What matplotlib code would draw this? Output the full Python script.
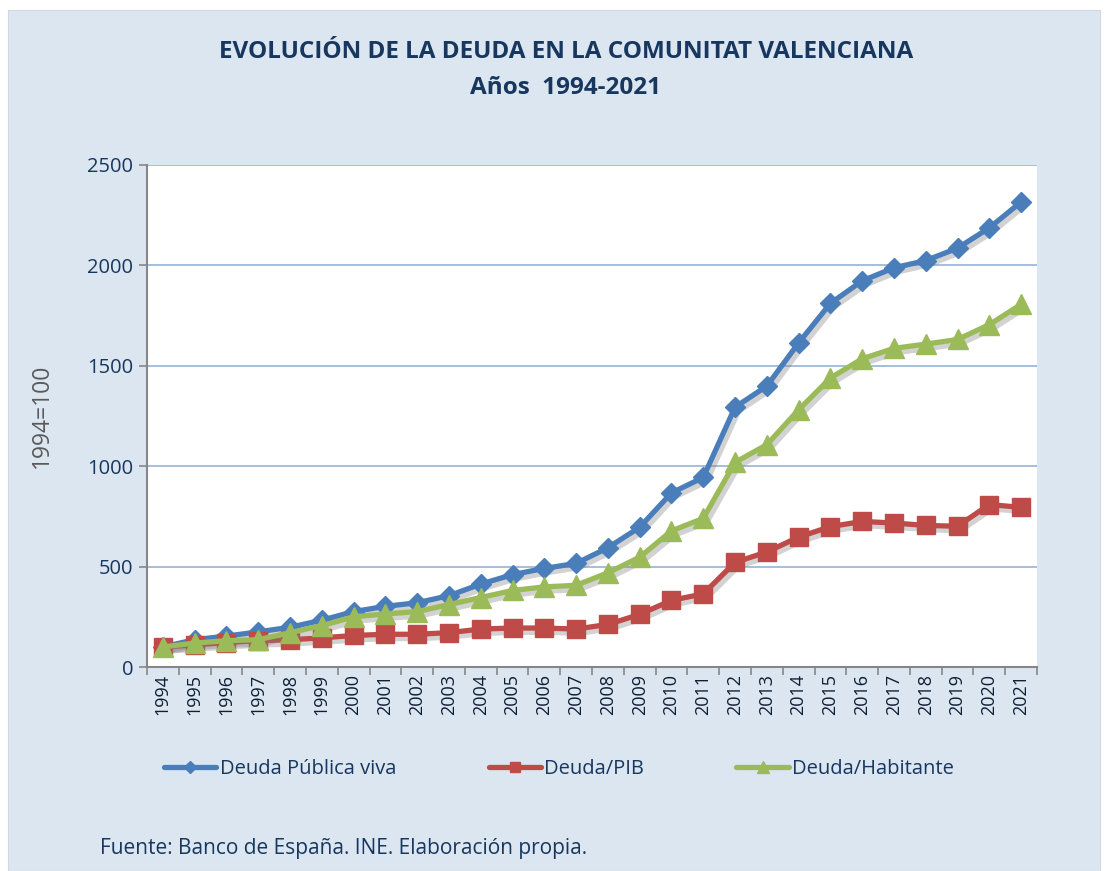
import numpy as np
import matplotlib
matplotlib.use("Agg")
import matplotlib.pyplot as plt
import matplotlib.patheffects as pe
from matplotlib.patches import Rectangle
from matplotlib.lines import Line2D

plt.rcParams['font.family'] = ['Open Sans', 'DejaVu Sans']

years = [str(y) for y in range(1994, 2022)]
deuda_viva = [100, 136, 154, 175, 198, 233, 276, 302, 320, 355, 413, 460, 491, 516,
              594, 696, 867, 944, 1294, 1399, 1614, 1811, 1923, 1988, 2024, 2086, 2187, 2316]
deuda_pib = [100, 110, 122, 131, 136, 145, 157, 163, 163, 171, 189, 194, 194, 189,
             212, 262, 332, 364, 521, 573, 647, 699, 725, 717, 705, 701, 809, 795]
deuda_hab = [100, 119, 131, 136, 171, 206, 250, 264, 276, 311, 346, 381, 399, 407,
             469, 547, 678, 740, 1019, 1107, 1281, 1439, 1535, 1587, 1608, 1631, 1705, 1806]
labels = ['Deuda Pública viva', 'Deuda/PIB', 'Deuda/Habitante']

navy = '#17375E'
bg = '#DCE6F1'

fig = plt.figure(figsize=(11.05, 8.71), dpi=100)
fig.patches.append(Rectangle((8/1105, 0), 1092/1105, 1 - 10/871, transform=fig.transFigure,
                             facecolor=bg, edgecolor='#d0d8e0', lw=0.8, zorder=-10))

ax = fig.add_axes([147/1105, 1 - 667/871, 890/1105, 502/871])
ax.set_facecolor('white')

x = np.arange(len(years))
series = [(deuda_viva, '#4A7EBB', 'D', 10), (deuda_pib, '#BE4B48', 's', 13),
          (deuda_hab, '#9BBB59', '^', 14)]
shadow = [pe.SimpleLineShadow(offset=(2, -2.5), shadow_color='#7f7f7f', alpha=0.35, linewidth=5),
          pe.Normal()]
handles = []
for i, (vals, col, mk, ms) in enumerate(series):
    ax.plot(x, vals, color=col, lw=3.8, path_effects=shadow, zorder=3 + i,
            solid_capstyle='round', solid_joinstyle='round')
    ax.plot(x, vals, ls='none', marker=mk, ms=ms, color=col, zorder=3 + i)
    handles.append(Line2D([], [], color=col, lw=3.8, marker=mk, ms=ms * 0.6,
                          solid_capstyle='round'))

ax.set_xlim(-0.5, len(years) - 0.5)
ax.set_ylim(0, 2500)
ax.set_yticks(range(0, 2501, 500))
ax.set_xticks(np.arange(-0.5, len(years), 1), minor=False)
ax.set_xticklabels([])
ax.set_xticks(x, minor=True)
ax.set_xticklabels(years, minor=True, rotation=90, fontsize=13, color='#0d1f33')
ax.tick_params(axis='x', which='minor', length=0, pad=5)
ax.tick_params(axis='x', which='major', length=6, color='#868686', width=1.2)
ax.tick_params(axis='y', length=6, color='#868686', width=1.2, labelsize=14.5, pad=4,
               labelcolor=navy)
ax.grid(axis='y', color='#95B3D7', lw=1.2)
ax.set_axisbelow(True)
for s in ['top', 'right']:
    ax.spines[s].set_visible(False)
for s in ['left', 'bottom']:
    ax.spines[s].set_color('#868686')
    ax.spines[s].set_linewidth(1.5)

fig.text(42/1105, 1 - 416/871, '1994=100', rotation=90, fontsize=16.5, color='#595959',
         ha='center', va='center')

fig.text(0.512, 1 - 52/871, 'EVOLUCIÓN DE LA DEUDA EN LA COMUNITAT VALENCIANA',
         ha='center', va='center', fontsize=17.5, fontweight='bold', color=navy)
fig.text(0.512, 1 - 88/871, 'Años  1994-2021',
         ha='center', va='center', fontsize=17.5, fontweight='bold', color=navy)

fig.legend(handles, labels, loc='center left', bbox_to_anchor=(146/1105, 1 - 769/871), ncol=3,
           frameon=False, fontsize=14.5, handlelength=2.6, handletextpad=0.15,
           columnspacing=4.6, labelcolor=navy)

fig.text(100/1105, 1 - 848/871, 'Fuente: Banco de España. INE. Elaboración propia.',
         fontsize=15, color=navy, va='center')

fig.savefig('out.png', dpi=100, facecolor='white')
